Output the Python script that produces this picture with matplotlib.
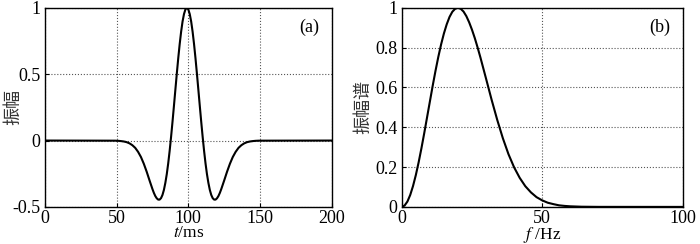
import numpy as np
import matplotlib
matplotlib.use('Agg')
import matplotlib.pyplot as plt

plt.rcParams['font.family'] = ['Liberation Serif', 'Noto Sans CJK SC']
plt.rcParams['mathtext.fontset'] = 'stix'
plt.rcParams['font.size'] = 13

# wavelet: offset from the peak (ms) and amplitude
t_center = 99
t_offset = [0, 1, 2, 3, 4, 5, 6, 7, 8, 9, 10, 11, 12, 13, 14, 15, 16, 17,
            18, 19, 20, 21, 22, 23, 24, 26, 28, 30, 32, 34, 36, 38, 40, 42,
            44, 46, 48, 50]
amp_half = [1.0, 0.988, 0.953, 0.897, 0.820, 0.727, 0.621, 0.505, 0.384,
            0.262, 0.142, 0.028, -0.078, -0.172, -0.253, -0.319, -0.372,
            -0.410, -0.434, -0.445, -0.445, -0.435, -0.418, -0.394, -0.365,
            -0.301, -0.235, -0.175, -0.124, -0.085, -0.055, -0.035, -0.021,
            -0.012, -0.007, -0.004, -0.002, -0.001]

# amplitude spectrum
freq = [0, 1, 2, 3, 4, 5, 6, 7, 8, 9, 10, 11, 12, 13, 14, 15, 16, 17, 18,
        19, 20, 21, 22, 23, 24, 25, 26, 27, 28, 29, 30, 32, 34, 36, 38, 40,
        42, 44, 46, 48, 50, 52, 54, 56, 58, 60, 64, 70, 100]
spec = [0, 0.007, 0.027, 0.060, 0.105, 0.160, 0.224, 0.295, 0.371, 0.450,
        0.529, 0.608, 0.683, 0.753, 0.816, 0.871, 0.917, 0.954, 0.980, 0.995,
        1.0, 0.995, 0.981, 0.958, 0.927, 0.890, 0.848, 0.801, 0.751, 0.698,
        0.645, 0.538, 0.437, 0.345, 0.265, 0.199, 0.146, 0.104, 0.073, 0.049,
        0.033, 0.021, 0.014, 0.008, 0.005, 0.003, 0.001, 0.0002, 0]

off = np.array(t_offset)
a = np.array(amp_half)
t = np.concatenate([[0], t_center - off[::-1], t_center + off[1:], [200]])
amp = np.concatenate([[0], a[::-1], a[1:], [0]])

fig = plt.figure(figsize=(7, 2.44), dpi=100)
ax1 = fig.add_axes([0.064, 0.152, 0.41, 0.816])
ax2 = fig.add_axes([0.574, 0.152, 0.401, 0.816])

ax1.plot(t, amp, color='black', lw=1.5)
ax1.set_xlim(0, 200)
ax1.set_ylim(-0.5, 1)
ax1.set_xticks([0, 50, 100, 150, 200])
ax1.set_yticks([-0.5, 0, 0.5, 1])
ax1.set_yticklabels(['-0.5', '0', '0.5', '1'])
ax1.set_xlabel('$t$/ms', labelpad=-1, fontsize=12.5)
ax1.set_ylabel('振幅', family='Noto Sans CJK SC', color='#333333', fontsize=13)
ax1.yaxis.set_label_coords(-0.08, 0.5)
ax1.text(0.955, 0.9, '(a)', transform=ax1.transAxes, ha='right', va='center')

ax2.plot(freq, spec, color='black', lw=1.5)
ax2.set_xlim(0, 100)
ax2.set_ylim(0, 1)
ax2.set_xticks([0, 50, 100])
ax2.set_yticks([0, 0.2, 0.4, 0.6, 0.8, 1])
ax2.set_yticklabels(['0', '0.2', '0.4', '0.6', '0.8', '1'])
ax2.set_xlabel('$f$ /Hz', labelpad=-1, fontsize=12.5)
ax2.set_ylabel('振幅谱', family='Noto Sans CJK SC', color='#333333', fontsize=13)
ax2.yaxis.set_label_coords(-0.107, 0.5)
ax2.text(0.955, 0.9, '(b)', transform=ax2.transAxes, ha='right', va='center')

for ax in (ax1, ax2):
    ax.grid(True, linestyle=':', color='#555555', lw=0.8)
    ax.tick_params(direction='in', length=3, pad=3)
    ax.tick_params(axis='x', pad=2)
    for s in ax.spines.values():
        s.set_linewidth(1.0)

fig.savefig('out.png', dpi=100)
